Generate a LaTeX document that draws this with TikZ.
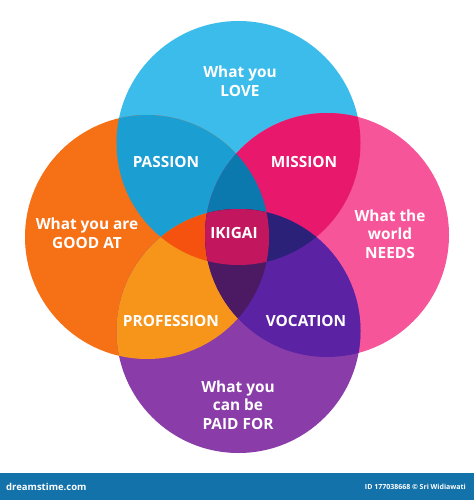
\documentclass[tikz,border=0pt]{standalone}
\usepackage{fontspec}
\setmainfont{Open Sans}
\definecolor{cBlue}{HTML}{3CBCEA}
\definecolor{cOrange}{HTML}{F67015}
\definecolor{cPink}{HTML}{F7559A}
\definecolor{cPurple}{HTML}{8A3DA8}
\definecolor{cPassion}{HTML}{1B9ED2}
\definecolor{cMission}{HTML}{E8186C}
\definecolor{cProfession}{HTML}{F7941A}
\definecolor{cVocation}{HTML}{5B22A3}
\definecolor{cTop}{HTML}{0B79AE}
\definecolor{cLeft}{HTML}{F5520F}
\definecolor{cRight}{HTML}{2B2179}
\definecolor{cBottom}{HTML}{4B1A63}
\definecolor{cIkigai}{HTML}{C2175F}
\definecolor{cBar}{HTML}{1472AB}
\tikzset{
  lbl/.style={text=white, align=center, font=\bfseries\fontsize{15.4}{18.7}\selectfont, inner sep=0pt},
}
\def\CB{(238.5,143) circle (122pt)}
\def\CO{(147,237) circle (122pt)}
\def\CP{(327,235) circle (122pt)}
\def\CV{(238.5,331) circle (122pt)}
\begin{document}
\begin{tikzpicture}[x=1pt,y=-1pt]
\useasboundingbox (0,0) rectangle (474,500);
\fill[white] (0,0) rectangle (474,500);
% base circles
\fill[cBlue] \CB;
\fill[cOrange] \CO;
\fill[cPink] \CP;
\fill[cPurple] \CV;
% pairwise
\begin{scope}\clip \CB; \fill[cPassion] \CO; \fill[cMission] \CP; \end{scope}
\begin{scope}\clip \CV; \fill[cProfession] \CO; \fill[cVocation] \CP; \end{scope}
% triples
\begin{scope}\clip \CB; \clip \CO; \fill[cTop] \CP; \fill[cLeft] \CV; \end{scope}
\begin{scope}\clip \CV; \clip \CP; \fill[cRight] \CB; \fill[cBottom] \CO; \end{scope}
% quadruple
\begin{scope}\clip \CB; \clip \CO; \clip \CP; \fill[cIkigai] \CV; \end{scope}
% labels
\node[lbl] (love) at (240,81) {What you\\LOVE};
\node[lbl] (passion) at (166,162) {PASSION};
\node[lbl] (mission) at (304,162) {MISSION};
\node[lbl] (good) at (87,233) {What you are\\GOOD AT};
\node[lbl] (needs) at (390,234) {What the\\world\\NEEDS};
\node[lbl] (ikigai) at (234,233) {IKIGAI};
\node[lbl] (profession) at (171,321) {PROFESSION};
\node[lbl] (vocation) at (306,321) {VOCATION};
\node[lbl] (paid) at (238,405) {What you\\can be\\PAID FOR};
% bottom bar
\fill[cBar] (0,473) rectangle (474,500);
\node[text=white, anchor=west, font=\bfseries\fontsize{9.5}{11}\selectfont, inner sep=0pt] (brand) at (6,487) {dreamstime.com};
\node[text=white, anchor=east, font=\bfseries\fontsize{7}{8}\selectfont, inner sep=0pt] (credit) at (466,487) {ID 177038668 \textcopyright{} Sri Widiawati};
\end{tikzpicture}
\end{document}
